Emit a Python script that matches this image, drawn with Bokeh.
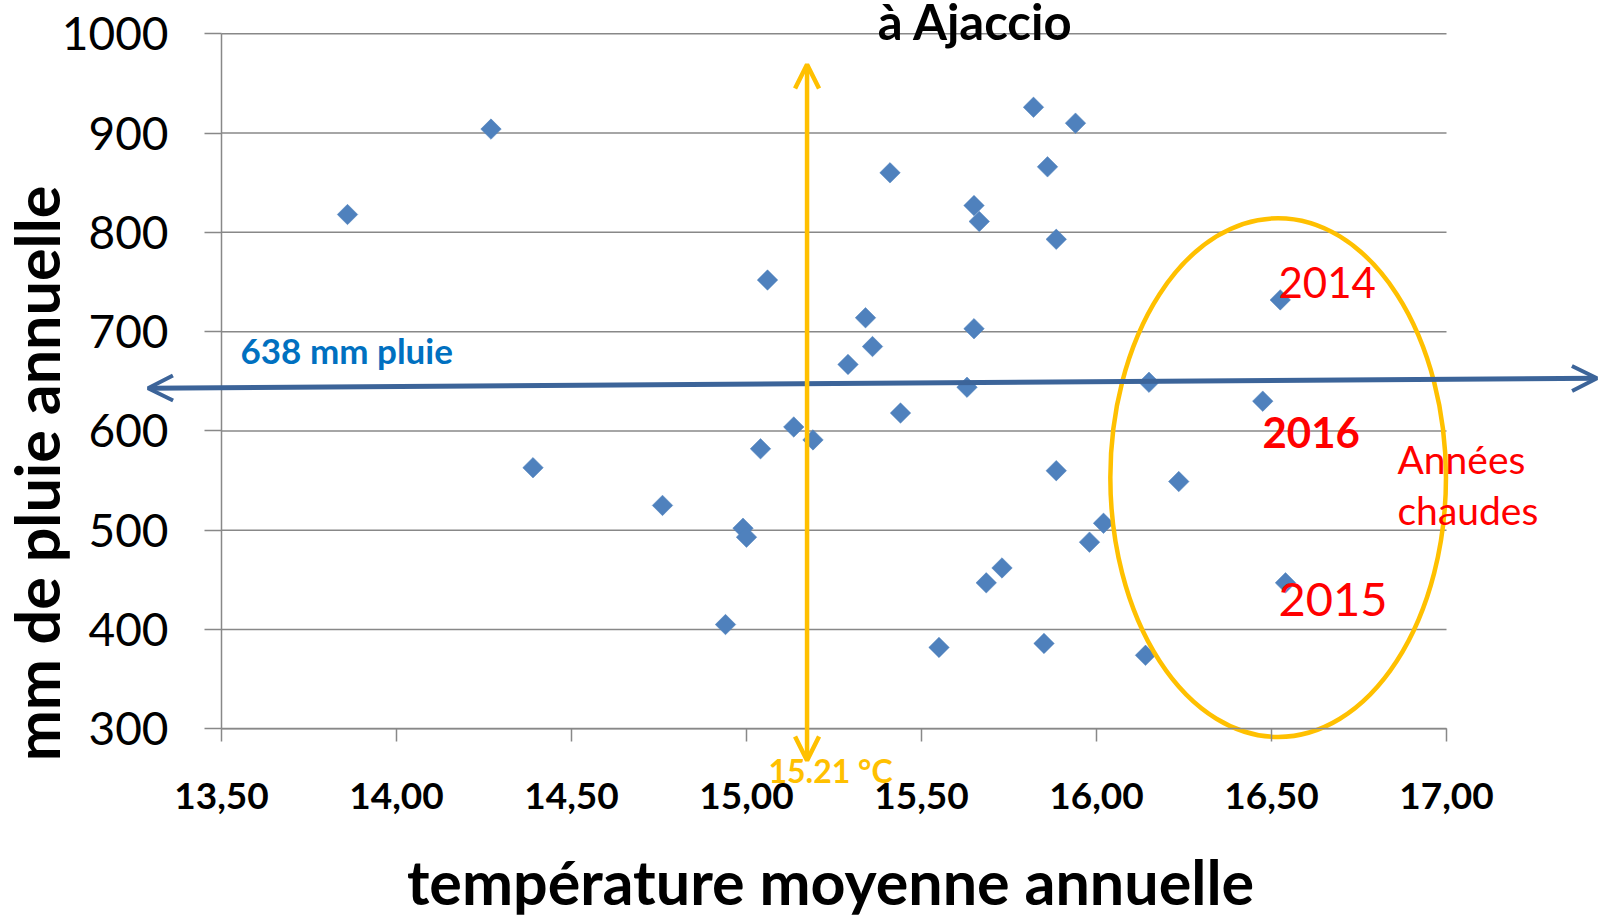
import numpy as np
from bokeh.plotting import figure
from bokeh.models import FixedTicker, Label, Arrow, OpenHead, Range1d, ColumnDataSource
from bokeh.embed import file_html
from bokeh.resources import INLINE

# ---------------- data ----------------
temperature = [13.86, 14.27, 14.39, 14.76, 14.94, 14.99, 15.00, 15.04, 15.06, 15.135,
               15.19, 15.29, 15.34, 15.36, 15.41, 15.44, 15.55, 15.63, 15.65, 15.665,
               15.65, 15.685, 15.73, 15.82, 15.85, 15.86, 15.885, 15.885, 15.94, 15.98,
               16.02, 16.14, 16.15, 16.235, 16.475, 16.525, 16.54]
rain = [818, 904, 563, 525, 405, 502, 493, 582, 752, 604,
        591, 667, 714, 685, 860, 618, 382, 644, 827, 811,
        703, 447, 462, 926, 386, 866, 793, 560, 910, 488,
        507, 374, 649, 549, 630, 732, 447]

x_ticks = [13.5, 14.0, 14.5, 15.0, 15.5, 16.0, 16.5, 17.0]
x_tick_labels = ["13,50", "14,00", "14,50", "15,00", "15,50", "16,00", "16,50", "17,00"]
y_ticks = [300, 400, 500, 600, 700, 800, 900, 1000]

title_text = "à Ajaccio"
x_title = "température moyenne annuelle"
y_title = "mm de pluie annuelle"

mean_rain_label = "638 mm pluie"
mean_rain_line_x = [13.29, 17.43]
mean_rain_line_y = [643, 653]

mean_temp_label = "15.21 °C"
mean_temp_line_x = 15.173
mean_temp_line_y = [969, 268]

hot_center = (16.519, 553)
hot_size = (0.959, 523)
hot_years = ["2014", "2016", "2015"]
hot_label = ["Années", "chaudes"]

# ---------------- layout helpers (pixel -> data for annotations) ----------------
W, H = 1601, 919
FL, FR, FT, FB = 221, 1446, 33.3, 728.3
XR = (x_ticks[0], x_ticks[-1])
YR = (y_ticks[0], y_ticks[-1])


def dx(px):
    return XR[0] + (px - FL) * (XR[1] - XR[0]) / (FR - FL)


def dy(py):
    return YR[0] + (FB - py) * (YR[1] - YR[0]) / (FB - FT)


FONT = "Lato"
GRID = "#888888"
BLUE = "#4F81BD"
YELLOW = "#FFC000"
RED = "#FF0000"

p = figure(width=W, height=H, output_backend="svg", toolbar_location=None, tools="",
           x_range=Range1d(dx(0), dx(W)), y_range=Range1d(dy(H), dy(0)), title=None,
           min_border=0, min_border_left=0, min_border_right=0,
           min_border_top=0, min_border_bottom=0)
p.outline_line_color = None
p.background_fill_color = "white"
p.border_fill_color = "white"

# grid lines limited to the axis extent
p.xgrid.visible = False
p.ygrid.visible = False
p.segment(x0=[x_ticks[0]] * len(y_ticks), x1=[x_ticks[-1]] * len(y_ticks),
          y0=y_ticks, y1=y_ticks, line_color=GRID, line_width=1.5)

p.xaxis.fixed_location = YR[0]
p.xaxis.bounds = XR
p.xaxis.ticker = FixedTicker(ticks=x_ticks)
p.xaxis.major_label_overrides = {t: l for t, l in zip(x_ticks, x_tick_labels)}
p.xaxis.major_label_text_font = FONT
p.xaxis.major_label_text_font_style = "bold"
p.xaxis.major_label_text_font_size = "37px"
p.xaxis.major_label_text_color = "black"
p.xaxis.major_label_standoff = 41
p.xaxis.major_tick_out = 13
p.xaxis.major_tick_in = 0
p.xaxis.minor_tick_line_color = None
p.xaxis.axis_line_color = GRID
p.xaxis.axis_line_width = 1.5
p.xaxis.major_tick_line_color = GRID
p.xaxis.major_tick_line_width = 1.5

p.yaxis.fixed_location = XR[0]
p.yaxis.bounds = YR
p.yaxis.ticker = FixedTicker(ticks=y_ticks)
p.yaxis.major_label_text_font = FONT
p.yaxis.major_label_text_font_size = "46px"
p.yaxis.major_label_text_color = "black"
p.yaxis.major_label_standoff = 36
p.yaxis.major_tick_out = 17
p.yaxis.major_tick_in = 0
p.yaxis.minor_tick_line_color = None
p.yaxis.axis_line_color = GRID
p.yaxis.axis_line_width = 1.5
p.yaxis.major_tick_line_color = GRID
p.yaxis.major_tick_line_width = 1.5

# scatter points (diamonds = rotated squares)
src = ColumnDataSource(data=dict(t=temperature, r=rain))
p.scatter("t", "r", source=src, marker="square", angle=np.pi / 4, size=14.5,
          fill_color=BLUE, line_color=BLUE, line_width=0.5)

# hot years ellipse
p.ellipse(x=[hot_center[0]], y=[hot_center[1]], width=[hot_size[0]], height=[hot_size[1]],
          fill_color=None, line_color=YELLOW, line_width=4.5)

# mean rain arrow (double headed)
p.add_layout(Arrow(x_start=mean_rain_line_x[0], y_start=mean_rain_line_y[0],
                   x_end=mean_rain_line_x[1], y_end=mean_rain_line_y[1],
                   line_color="#3C6499", line_width=5,
                   start=OpenHead(size=25, line_color="#3C6499", line_width=4),
                   end=OpenHead(size=25, line_color="#3C6499", line_width=4)))

# mean temperature arrow
p.add_layout(Arrow(x_start=mean_temp_line_x, y_start=mean_temp_line_y[0],
                   x_end=mean_temp_line_x, y_end=mean_temp_line_y[1],
                   line_color=YELLOW, line_width=4.5,
                   start=OpenHead(size=24, line_color=YELLOW, line_width=4.5),
                   end=OpenHead(size=24, line_color=YELLOW, line_width=4.5)))


def add_label(text, px, py, size, color="black", bold=False, align="left", rotated=False):
    # px, py: wanted baseline position in picture pixels
    if rotated:
        px = px - 0.45 * size
    else:
        py = py - 0.38 * size
    p.add_layout(Label(x=dx(px), y=dy(py), text=text, text_font=FONT,
                       text_font_size=f"{size}px", text_color=color,
                       text_font_style="bold" if bold else "normal",
                       text_align=align, text_baseline="alphabetic",
                       angle=np.pi / 2 if rotated else 0.0))


add_label(title_text, 975, 39, 49, bold=True, align="center")
add_label(x_title, 830, 904, 61, bold=True, align="center")
add_label(y_title, 63, 473, 61, bold=True, align="center", rotated=True)
add_label(mean_rain_label, 240, 363, 35, color="#0070C0", bold=True)
add_label(mean_temp_label, 768, 782, 32, color=YELLOW, bold=True)
add_label(hot_years[0], 1278, 298, 42, color=RED)
add_label(hot_years[1], 1262, 448, 42, color=RED, bold=True)
add_label(hot_years[2], 1278, 617, 47, color=RED)
add_label(hot_label[0], 1397, 473, 39, color=RED)
add_label(hot_label[1], 1397, 524, 39, color=RED)

open("out.html", "w").write(file_html(p, INLINE))
